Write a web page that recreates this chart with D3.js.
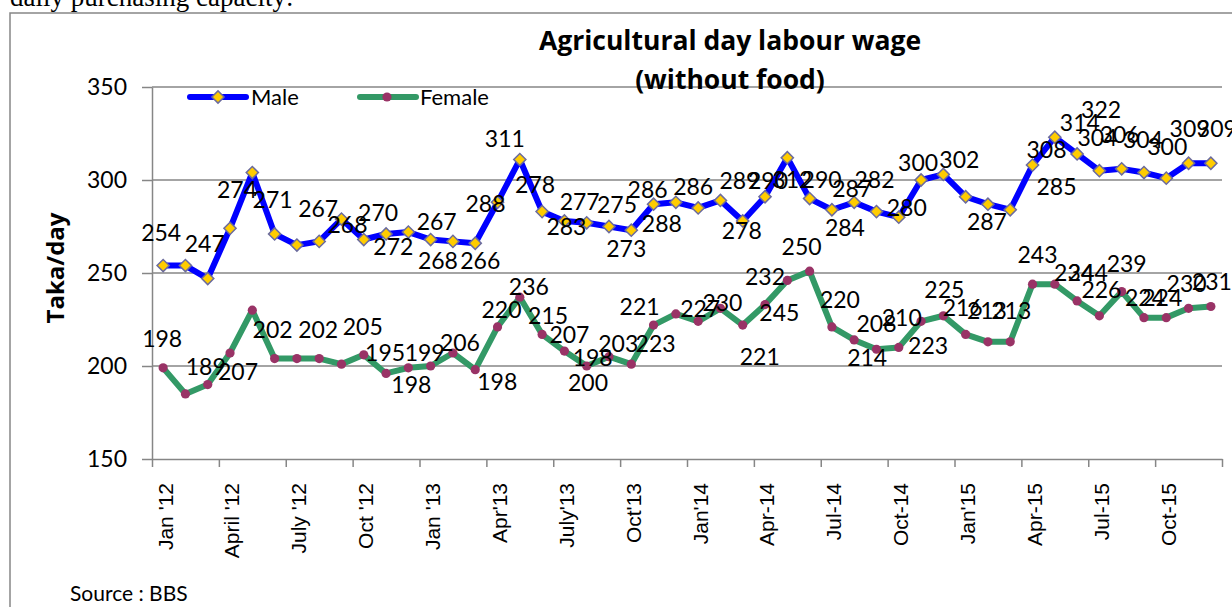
<!DOCTYPE html>
<html lang="en">
<head>
<meta charset="UTF-8">
<title>Agricultural day labour wage</title>
<script src="https://cdn.jsdelivr.net/npm/d3@7"></script>
<style>
  body { margin: 0; background: #fff; }
  text { font-family: Lato, "Open Sans", sans-serif; fill: #000; }
  .axis path, .axis line { stroke: #868686; stroke-width: 1.5; }
  .grid line { stroke: #868686; stroke-width: 1.5; }
</style>
</head>
<body>
<script>
// months Jan 2012 .. Dec 2015
var months = d3.timeMonths(new Date(2012, 0, 1), new Date(2016, 0, 1));
var tickLabels = ["Jan '12", "April '12", "July '12", "Oct '12", "Jan '13", "Apr'13", "July'13", "Oct'13",
  "Jan'14", "Apr-14", "Jul-14", "Oct-14", "Jan'15", "Apr-15", "Jul-15", "Oct-15"];
var yTicks = [150, 200, 250, 300, 350];

var male = [254, 254, 247, 274, 304, 271, 265, 267, 279, 268, 271, 272,
  268, 267, 266, 288, 311, 283, 278, 277, 275, 273, 287, 288,
  285, 289, 278, 291, 312, 290, 284, 288, 283, 280, 300, 303,
  291, 287, 284, 308, 323, 314, 305, 306, 304, 301, 309, 309];
var female = [199, 185, 190, 207, 230, 204, 204, 204, 201, 206, 196, 199,
  200, 207, 198, 221, 237, 217, 208, 200, 205, 201, 222, 228,
  224, 231, 222, 233, 246, 251, 221, 214, 209, 210, 224, 227,
  217, 213, 213, 244, 244, 235, 227, 240, 226, 226, 231, 232];

// data label texts as printed on the chart: [month index, text]
var maleLabels = [[0,'254'],[2,'247'],[3,'274'],[5,'271'],[7,'267'],[8,'268'],[10,'270'],[11,'272'],
  [12,'267'],[13,'268'],[14,'266'],[15,'288'],[16,'311'],[17,'278'],[18,'283'],[19,'277'],[20,'275'],
  [21,'273'],[22,'286'],[23,'288'],[24,'286'],[25,'289'],[26,'278'],[27,'290'],[28,'312'],[29,'290'],
  [30,'284'],[31,'287'],[32,'282'],[33,'280'],[34,'300'],[35,'302'],[37,'287'],[39,'308'],[39,'285'],
  [40,'314'],[41,'322'],[42,'304'],[43,'306'],[44,'304'],[45,'300'],[46,'309'],[47,'309']];
var femaleLabels = [[0,'198'],[2,'189'],[3,'207'],[5,'202'],[7,'202'],[9,'205'],[10,'195'],[11,'198'],
  [12,'199'],[13,'206'],[14,'198'],[15,'220'],[16,'236'],[17,'215'],[18,'207'],[19,'198'],[20,'200'],
  [21,'203'],[22,'221'],[22,'223'],[24,'227'],[25,'230'],[26,'221'],[27,'232'],[28,'245'],[29,'250'],
  [30,'220'],[31,'214'],[32,'208'],[33,'210'],[34,'223'],[35,'225'],[36,'216'],[37,'213'],[38,'213'],
  [39,'243'],[40,'244'],[41,'234'],[42,'226'],[43,'239'],[44,'224'],[45,'224'],[46,'230'],[47,'231']];

// label nudges (px from the marker), same order as the label lists
var maleNudge = [[-2,-33],[-3,-35],[7,-39],[-2,-34],[-1,-33],[6,6],[-8,-21],[-15,15],
  [6,-18],[-15,19],[5,17],[-12,1],[-15,-21],[-7,-27],[2,6],[-7,-21],[8,-22],
  [-5,18],[-6,-14],[-14,21],[-5,-21],[19,-20],[-1,10],[3,-16],[5,22],[12,-19],
  [13,18],[-2,-14],[-2,-32],[8,-9],[-3,-17],[16,-15],[-1,18],[14,-15],[24,22],
  [25,-15],[24,-44],[-2,-33],[-2,-34],[-1,-33],[1,-31],[1,-35],[6,-35]];
var femaleNudge = [[-1,-29],[-2,-18],[8,19],[-2,-29],[-1,-29],[-1,-28],[-1,-21],[3,17],
  [-6,-13],[7,-10],[22,12],[4,-17],[9,-10],[6,-19],[5,-16],[6,-8],[-21,26],
  [-13,-20],[-14,-18],[2,19],[2,-13],[2,-6],[17,32],[0,-28],[-8,32],[-8,-24],
  [8,-27],[13,18],[0,-26],[3,-30],[7,24],[1,-26],[-3,-27],[-1,-31],[1,-31],
  [5,-29],[33,-11],[-3,-28],[2,-26],[5,-28],[1,-20],[-4,-20],[-2,-25],[1,-25]];

window.onload = function () {
  var W = 1232, H = 607;
  var left = 152, right = 1222, top = 87, bottom = 459;

  var svg = d3.select('body').append('svg')
    .attr('width', W).attr('height', H);

  // text of the page above the chart, cut off by the frame
  svg.append('text')
    .attr('x', 10).attr('y', 6)
    .style('font-family', '"Liberation Serif", serif')
    .style('font-size', '27px')
    .text('daily purchasing capacity:');

  // chart frame
  svg.append('rect')
    .attr('x', 10).attr('y', 13)
    .attr('width', W + 20).attr('height', H)
    .attr('fill', '#fff')
    .attr('stroke', '#868686')
    .attr('stroke-width', 1.5);

  var x = d3.scaleBand().domain(d3.range(months.length)).range([left, right]);
  var cx = function (i) { return x(i) + x.bandwidth() / 2; };
  var xEdge = d3.scaleLinear().domain([0, months.length]).range([left, right]);
  var y = d3.scaleLinear().domain([150, 350]).range([bottom, top]);

  // gridlines
  svg.append('g').attr('class', 'grid')
    .selectAll('line')
    .data(yTicks.slice(1))
    .enter().append('line')
    .attr('x1', left).attr('x2', right)
    .attr('y1', function (d) { return y(d); })
    .attr('y2', function (d) { return y(d); });

  // y axis
  var ya = svg.append('g').attr('class', 'axis')
    .attr('transform', 'translate(' + left + ',0)')
    .call(d3.axisLeft(y).tickValues(yTicks).tickSize(10).tickSizeOuter(0).tickPadding(15));
  ya.selectAll('text').style('font-size', '23px').style('font-family', 'Lato, sans-serif');

  // x axis: ticks between months, labels on every third month
  svg.append('g').attr('class', 'axis')
    .attr('transform', 'translate(0,' + bottom + ')')
    .call(d3.axisBottom(xEdge).tickValues(d3.range(0, months.length + 1, 3))
      .tickSize(8).tickSizeOuter(0).tickFormat(''));

  svg.append('g')
    .selectAll('text')
    .data(tickLabels)
    .enter().append('text')
    .attr('transform', function (d, k) {
      return 'translate(' + (cx(k * 3) + 2) + ',' + (bottom + 24) + ') rotate(-90)';
    })
    .attr('text-anchor', 'end')
    .attr('dy', '0.35em')
    .style('font-family', '"Liberation Sans", Arial, sans-serif')
    .style('font-size', '21px')
    .text(function (d) { return d; });

  // y title
  svg.append('text')
    .attr('transform', 'translate(56,268) rotate(-90)')
    .attr('text-anchor', 'middle')
    .attr('dy', '0.35em')
    .style('font-family', '"Open Sans", sans-serif')
    .style('font-size', '24px')
    .style('font-weight', 'bold')
    .text('Taka/day');

  // chart title
  var title = svg.append('text')
    .attr('text-anchor', 'middle')
    .style('font-family', '"Open Sans", sans-serif')
    .style('font-size', '26.5px')
    .style('font-weight', 'bold');
  title.append('tspan').attr('x', 730).attr('y', 50).text('Agricultural day labour wage');
  title.append('tspan').attr('x', 730).attr('y', 89).text('(without food)');

  // source
  svg.append('text')
    .attr('x', 70).attr('y', 601)
    .style('font-size', '21px')
    .text('Source : BBS');

  var line = d3.line()
    .x(function (d, i) { return cx(i); })
    .y(function (d) { return y(d); });

  var diamond = d3.symbol().type(d3.symbolSquare).size(74);

  // female series
  svg.append('path')
    .datum(female)
    .attr('d', line)
    .attr('fill', 'none')
    .attr('stroke', '#339966')
    .attr('stroke-width', 6)
    .attr('stroke-linejoin', 'round');

  svg.append('g').selectAll('circle')
    .data(female)
    .enter().append('circle')
    .attr('cx', function (d, i) { return cx(i); })
    .attr('cy', function (d) { return y(d); })
    .attr('r', 4.6)
    .attr('fill', '#993366');

  // male series
  svg.append('path')
    .datum(male)
    .attr('d', line)
    .attr('fill', 'none')
    .attr('stroke', '#0000FF')
    .attr('stroke-width', 6)
    .attr('stroke-linejoin', 'round');

  svg.append('g').selectAll('path')
    .data(male)
    .enter().append('path')
    .attr('d', diamond)
    .attr('transform', function (d, i) {
      return 'translate(' + cx(i) + ',' + y(d) + ') rotate(45)';
    })
    .attr('fill', '#FFCC00')
    .attr('stroke', '#6B6B9E')
    .attr('stroke-width', 1.5);

  // data labels
  function labels(list, nudge, values) {
    svg.append('g').selectAll('text')
      .data(list)
      .enter().append('text')
      .attr('x', function (d, k) { return cx(d[0]) + nudge[k][0]; })
      .attr('y', function (d, k) { return y(values[d[0]]) + nudge[k][1]; })
      .attr('text-anchor', 'middle')
      .attr('dy', '0.36em')
      .style('font-size', '23px')
      .text(function (d) { return d[1]; });
  }
  labels(maleLabels, maleNudge, male);
  labels(femaleLabels, femaleNudge, female);

  // legend
  var lg = svg.append('g').attr('transform', 'translate(0,97)');
  lg.append('line').attr('x1', 190).attr('x2', 246)
    .attr('stroke', '#0000FF').attr('stroke-width', 6).attr('stroke-linecap', 'round');
  lg.append('path').attr('d', diamond)
    .attr('transform', 'translate(218,0) rotate(45)')
    .attr('fill', '#FFCC00').attr('stroke', '#6B6B9E').attr('stroke-width', 1.5);
  lg.append('text').attr('x', 251).attr('dy', '0.36em').style('font-size', '22px').text('Male');

  lg.append('line').attr('x1', 360).attr('x2', 416)
    .attr('stroke', '#339966').attr('stroke-width', 6).attr('stroke-linecap', 'round');
  lg.append('circle').attr('cx', 387).attr('r', 4.6).attr('fill', '#993366');
  lg.append('text').attr('x', 420).attr('dy', '0.36em').style('font-size', '22px').text('Female');
};
</script>
</body>
</html>
